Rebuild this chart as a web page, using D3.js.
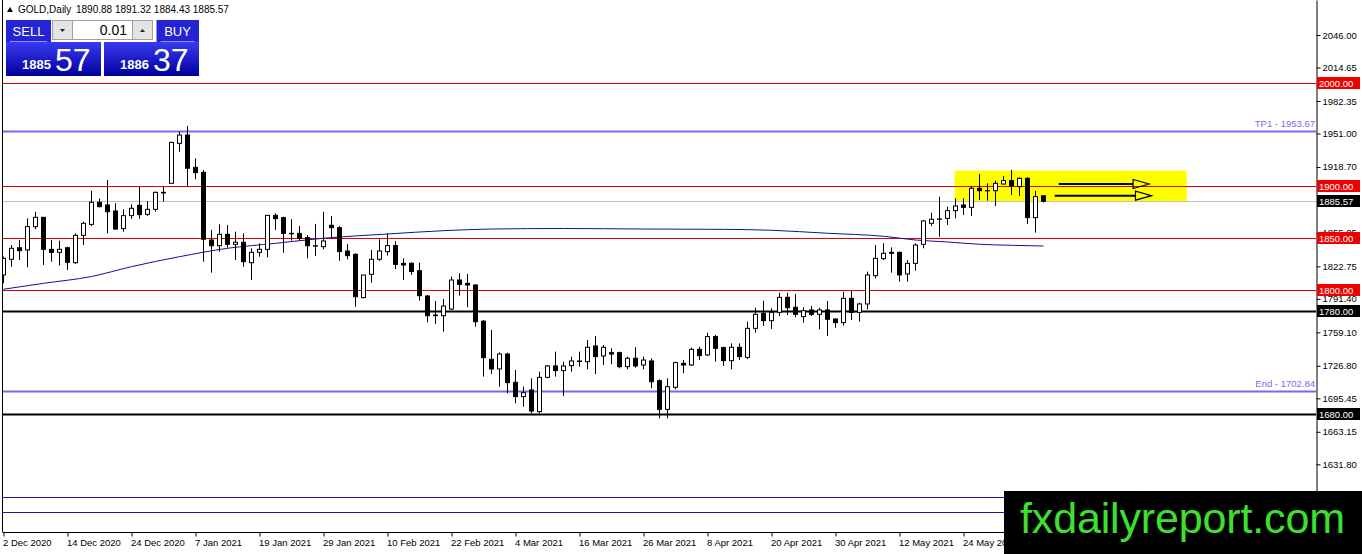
<!DOCTYPE html>
<html>
<head>
<meta charset="utf-8">
<script src="https://cdn.jsdelivr.net/npm/d3@7"></script>
<style>
  body { margin: 0; background: #fff; overflow: hidden; }
  svg { display: block; font-family: "Liberation Sans", Arial, sans-serif; }
</style>
</head>
<body>
<svg id="chart" width="1362" height="554"></svg>
<script>
// GOLD daily, 2 Dec 2020 .. 7 Jun 2021 (bar index 0..130)
var opens = [1814.5,1829.6,1840.8,1838.6,1861.1,1870.1,1839.2,1836.3,1840.8,1826.3,
  1852.7,1863.3,1884.6,1882.0,1876.2,1859.2,1871.7,1881.7,1873.0,1877.8,
  1894.2,1902.9,1941.5,1949.5,1918.3,1913.5,1848.2,1842.7,1853.7,1844.0,
  1846.0,1826.3,1836.3,1839.2,1872.0,1869.8,1854.6,1854.6,1850.5,1842.7,
  1841.8,1862.4,1860.1,1837.6,1834.4,1792.6,1815.1,1829.6,1837.0,1842.8,
  1825.7,1825.7,1818.6,1794.2,1775.2,1775.2,1781.6,1809.6,1806.4,1804.8,
  1769.9,1733.1,1723.8,1738.2,1710.9,1697.1,1703.5,1682.6,1715.7,1726.7,
  1722.2,1727.0,1731.5,1730.8,1746.0,1736.3,1739.5,1739.5,1726.0,1734.1,
  1727.6,1731.5,1712.5,1684.8,1706.1,1729.2,1727.6,1742.7,1737.3,1755.0,
  1744.4,1731.8,1744.7,1735.0,1763.0,1777.5,1770.4,1778.4,1792.9,1783.3,
  1774.3,1780.7,1776.5,1780.7,1772.0,1768.5,1791.9,1778.4,1786.5,1813.8,
  1830.2,1836.3,1836.3,1815.4,1825.7,1844.0,1864.3,1868.2,1869.1,1876.5,
  1882.0,1879.7,1898.1,1895.8,1895.8,1902.2,1905.5,1899.7,1907.7,1869.8,
  1890.88];
var highs = [1832.1,1843.4,1848.2,1869.1,1875.5,1870.3,1848.2,1847.6,1841.8,1854.6,
  1865.9,1895.8,1888.4,1906.1,1883.6,1877.8,1882.6,1899.7,1885.8,1894.9,
  1899.7,1943.1,1952.7,1958.2,1927.0,1915.8,1857.9,1863.3,1862.7,1856.3,
  1854.6,1840.2,1845.0,1872.3,1873.9,1870.7,1868.2,1861.7,1853.0,1863.7,
  1875.5,1871.4,1861.7,1844.4,1835.4,1814.4,1838.6,1848.9,1854.6,1847.3,
  1830.5,1826.7,1826.4,1795.2,1789.4,1791.3,1812.8,1816.1,1815.4,1805.4,
  1771.0,1761.4,1739.8,1739.5,1722.8,1706.7,1714.8,1721.2,1727.6,1740.5,
  1730.8,1735.7,1740.5,1751.7,1755.6,1746.9,1743.7,1740.5,1735.7,1744.7,
  1735.7,1734.1,1713.8,1714.8,1730.8,1732.4,1744.3,1745.3,1758.8,1756.6,
  1745.3,1748.5,1748.5,1769.4,1782.9,1789.7,1782.3,1797.4,1797.4,1796.1,
  1783.3,1784.6,1782.9,1789.4,1772.6,1798.4,1799.0,1787.8,1817.7,1843.4,
  1845.0,1841.1,1837.0,1828.9,1845.0,1867.5,1874.6,1890.0,1880.4,1888.4,
  1888.4,1900.3,1911.9,1902.9,1905.5,1910.0,1915.8,1908.7,1908.7,1895.5,
  1891.32];
var lows = [1806.4,1822.5,1828.9,1821.8,1858.5,1824.1,1827.3,1823.5,1819.3,1825.1,
  1843.4,1861.7,1879.7,1854.6,1857.9,1856.3,1868.5,1868.8,1871.4,1875.5,
  1885.2,1902.9,1933.4,1900.3,1906.7,1827.3,1816.7,1837.0,1840.8,1828.9,
  1822.5,1809.6,1832.1,1831.5,1857.9,1836.0,1847.6,1847.6,1830.5,1832.8,
  1839.2,1849.2,1828.3,1829.6,1783.9,1791.9,1807.1,1828.0,1833.1,1820.2,
  1809.6,1814.5,1789.7,1768.8,1767.2,1759.8,1780.7,1794.5,1783.3,1764.6,
  1716.4,1718.9,1706.7,1700.3,1690.6,1687.4,1681.0,1681.0,1714.8,1716.4,
  1697.7,1721.2,1726.0,1723.4,1718.9,1727.6,1728.3,1724.4,1723.4,1725.0,
  1723.4,1705.1,1676.2,1676.2,1704.1,1719.6,1726.7,1732.4,1736.3,1730.8,
  1726.7,1723.4,1732.5,1733.4,1758.8,1765.3,1762.4,1774.9,1775.9,1773.6,
  1768.5,1774.9,1762.0,1755.6,1763.6,1765.6,1771.0,1769.4,1781.3,1811.2,
  1828.9,1816.7,1808.0,1808.0,1818.6,1840.2,1861.7,1851.4,1862.7,1869.1,
  1872.3,1871.4,1886.8,1886.2,1881.0,1902.0,1891.6,1890.7,1863.7,1855.3,
  1884.43];
var closes = [1830.5,1840.2,1837.9,1861.1,1870.1,1839.2,1836.3,1839.2,1826.7,1852.7,
  1864.3,1884.6,1880.4,1875.5,1858.8,1871.7,1878.8,1872.7,1877.8,1894.2,
  1893.6,1942.4,1949.5,1917.4,1913.2,1848.9,1842.7,1853.7,1844.0,1846.0,
  1827.3,1836.3,1839.2,1872.0,1868.8,1854.6,1854.2,1849.8,1842.7,1842.3,
  1847.3,1860.1,1837.0,1833.1,1793.5,1814.4,1829.6,1837.6,1842.8,1824.7,
  1824.1,1817.7,1794.5,1775.2,1775.8,1784.5,1809.6,1805.4,1804.8,1769.4,
  1734.7,1723.8,1738.2,1710.6,1697.1,1700.9,1683.2,1715.7,1726.7,1722.2,
  1726.7,1731.5,1731.0,1744.7,1735.7,1744.7,1738.2,1726.0,1734.1,1726.7,
  1732.4,1711.5,1684.8,1706.7,1729.9,1727.6,1742.7,1736.6,1755.0,1743.7,
  1731.8,1744.7,1735.7,1763.0,1776.5,1770.4,1778.4,1792.9,1782.9,1776.5,
  1780.0,1776.5,1780.7,1771.7,1768.5,1791.9,1778.4,1786.5,1814.5,1830.5,
  1835.4,1835.4,1814.5,1825.7,1843.4,1866.6,1868.2,1868.5,1876.5,1881.0,
  1879.7,1898.1,1895.8,1895.6,1902.9,1905.5,1900.3,1907.7,1869.8,1890.0,
  1885.57];

// moving average read at a few bars
var maBars = [0, 5, 11, 16, 22, 28, 34, 40, 48, 55, 61, 70, 80, 90, 96, 103, 110, 114, 118, 122, 126, 130];
var maValues = [1800.7,1806.4,1813.0,1822.5,1832.1,1840.2,1845.0,1849.9,1854.0,1857.2,1858.8,
  1859.3,1858.8,1858.5,1857.6,1854.7,1851.8,1848.2,1846.3,1844.1,1843.1,1842.4];

var xTickBars = [0, 8, 16, 24, 32, 40, 48, 56, 64, 72, 80, 88, 96, 104, 112, 120];
var xTickLabels = ['2 Dec 2020','14 Dec 2020','24 Dec 2020','7 Jan 2021','19 Jan 2021','29 Jan 2021',
  '10 Feb 2021','22 Feb 2021','4 Mar 2021','16 Mar 2021','26 Mar 2021','8 Apr 2021',
  '20 Apr 2021','30 Apr 2021','12 May 2021','24 May 2021'];
var yTicks = [2046.00, 2014.65, 1982.35, 1951.00, 1918.70, 1855.05, 1822.75,
  1791.40, 1759.10, 1726.80, 1695.45, 1663.15, 1631.80];

// horizontal levels
var redLevels = [2000, 1900, 1850, 1800];
var blackLevels = [1780, 1680];
var targetLevels = [1953.67, 1702.84];
var targetNames = ['TP1', 'End'];
var navyLevels = [1600.5, 1585.5];
var bid = 1885.57, ask = 1886.37;

// yellow zone and arrows (bar index / price)
var zoneBars = [118.9, 147.9], zonePrices = [1915.1, 1885.2];
var arrowStart = [131.9, 131.4], arrowEnd = [143.2, 143.5], arrowPrice = [1902.2, 1891.0];

var svg = d3.select('#chart');
var plotRight = 1316, plotBottom = 532;
var font = '"Liberation Sans", Arial, sans-serif';

var x = d3.scaleLinear().domain([0, 130]).range([3.5, 1043.5]);
var y = d3.scaleLinear().domain([1566.48, 2079.77]).range([532, 0]);

svg.append('defs').append('clipPath').attr('id', 'clip')
  .append('rect').attr('x', 3).attr('y', 0).attr('width', plotRight - 3).attr('height', plotBottom);

var plot = svg.append('g').attr('clip-path', 'url(#clip)');

// yellow zone
plot.append('rect')
  .attr('x', x(zoneBars[0])).attr('width', x(zoneBars[1]) - x(zoneBars[0]))
  .attr('y', y(zonePrices[0])).attr('height', y(zonePrices[1]) - y(zonePrices[0]))
  .attr('fill', '#ffff00');

var hline = function(values, color, w) {
  plot.selectAll(null).data(values).enter().append('line')
    .attr('x1', 3).attr('x2', plotRight)
    .attr('y1', function(d) { return Math.round(y(d)) + 0.5; })
    .attr('y2', function(d) { return Math.round(y(d)) + 0.5; })
    .attr('stroke', color).attr('stroke-width', w);
};
hline(navyLevels, '#1a1aa0', 1);
hline([bid], '#c0c0c0', 1);
hline(redLevels, '#e00000', 1);
hline(blackLevels, '#000', 2);
hline(targetLevels, '#7b68ee', 2);

// target texts
plot.selectAll(null).data(targetLevels).enter().append('text')
  .attr('x', plotRight - 1).attr('y', function(d) { return y(d) - 4; })
  .attr('text-anchor', 'end').attr('font-size', 9.5).attr('fill', '#7b68ee')
  .text(function(d, i) { return targetNames[i] + ' - ' + d.toFixed(2); });

// moving average
var line = d3.line()
  .x(function(d, i) { return x(maBars[i]); })
  .y(function(d) { return y(d); })
  .curve(d3.curveMonotoneX);
plot.append('path').datum(maValues).attr('d', line)
  .attr('fill', 'none').attr('stroke', '#10109a').attr('stroke-width', 1);

// candles
var bars = d3.range(opens.length).map(function(i) {
  return { i: i, o: opens[i], h: highs[i], l: lows[i], c: closes[i] };
});
var candle = plot.selectAll('g.candle').data(bars).enter().append('g').attr('class', 'candle');
candle.append('line')
  .attr('x1', function(d) { return x(d.i); }).attr('x2', function(d) { return x(d.i); })
  .attr('y1', function(d) { return y(d.h); }).attr('y2', function(d) { return y(d.l); })
  .attr('stroke', '#000').attr('stroke-width', 1);
candle.append('rect')
  .attr('x', function(d) { return x(d.i) - 2; }).attr('width', 4)
  .attr('y', function(d) { return y(Math.max(d.o, d.c)); })
  .attr('height', function(d) { return Math.max(0.01, Math.abs(y(d.o) - y(d.c))); })
  .attr('fill', function(d) { return d.c >= d.o ? '#fff' : '#000'; })
  .attr('stroke', '#000').attr('stroke-width', 1);

// arrows
arrowPrice.forEach(function(p, i) {
  var yy = y(p), tip = x(arrowEnd[i]), base = tip - 16;
  plot.append('line').attr('x1', x(arrowStart[i])).attr('x2', base)
    .attr('y1', yy).attr('y2', yy).attr('stroke', '#000').attr('stroke-width', 2);
  plot.append('path')
    .attr('d', 'M' + base + ',' + (yy - 4.5) + 'L' + tip + ',' + yy + 'L' + base + ',' + (yy + 4.5) + 'Z')
    .attr('fill', 'none').attr('stroke', '#000').attr('stroke-width', 1.2);
});

// frame
svg.append('line').attr('x1', 2.5).attr('x2', 2.5).attr('y1', 0).attr('y2', plotBottom).attr('stroke', '#000');
svg.append('line').attr('x1', 2.5).attr('x2', plotRight).attr('y1', plotBottom + 0.5).attr('y2', plotBottom + 0.5).attr('stroke', '#000');

// y axis
var yAxis = svg.append('g').attr('transform', 'translate(' + (plotRight + 0.5) + ',0)')
  .call(d3.axisRight(y).tickValues(yTicks).tickSize(4).tickSizeOuter(0).tickPadding(2)
    .tickFormat(d3.format('.2f')));
yAxis.selectAll('text').attr('font-size', 9.5).attr('font-family', font).attr('fill', '#000');
yAxis.select('.domain').attr('stroke', '#000');

// x axis
var xAxis = svg.append('g').attr('transform', 'translate(0,' + (plotBottom + 0.5) + ')')
  .call(d3.axisBottom(x).tickValues(xTickBars).tickSize(4).tickSizeOuter(0)
    .tickFormat(function(d, i) { return xTickLabels[i]; }));
xAxis.select('.domain').remove();
xAxis.selectAll('text').attr('font-size', 9.5).attr('text-anchor', 'start').attr('dx', -1)
  .attr('font-family', font).attr('fill', '#000');

// level boxes on the price scale
var levelBox = function(value, color) {
  var yy = Math.round(y(value));
  svg.append('rect').attr('x', plotRight + 1).attr('y', yy - 6).attr('width', 43).attr('height', 12).attr('fill', color);
  svg.append('text').attr('x', plotRight + 3).attr('y', yy + 4).attr('font-size', 9.5).attr('fill', '#fff')
    .text(value.toFixed(2));
};
redLevels.forEach(function(v) { levelBox(v, '#ee0000'); });
blackLevels.forEach(function(v) { levelBox(v, '#000'); });
levelBox(bid, '#000');

// header
svg.append('path').attr('d', 'M7,12L13,12L10,7Z').attr('fill', '#000');
svg.append('text').attr('x', 18).attr('y', 13).attr('font-size', 10).text('GOLD,Daily');
svg.append('text').attr('x', 76).attr('y', 13).attr('font-size', 10)
  .text([opens[130], highs[130], lows[130], closes[130]].map(function(v) { return v.toFixed(2); }).join(' '));

// one click trading panel
var grad = svg.select('defs').append('linearGradient').attr('id', 'btn').attr('x1', 0).attr('x2', 0).attr('y1', 0).attr('y2', 1);
grad.append('stop').attr('offset', '0%').attr('stop-color', '#3a3af2');
grad.append('stop').attr('offset', '100%').attr('stop-color', '#00009c');

var panel = svg.append('g');
[[6, 'SELL', bid], [156.5, 'BUY', ask]].forEach(function(b, k) {
  var bx = k === 0 ? 6 : 104;
  panel.append('rect').attr('x', b[0]).attr('y', 20).attr('width', k === 0 ? 45 : 42.5).attr('height', 22).attr('fill', '#2424d4');
  panel.append('text').attr('x', b[0] + (k === 0 ? 22.5 : 21)).attr('y', 36).attr('text-anchor', 'middle')
    .attr('font-size', 13).attr('fill', '#fff').text(b[1]);
  panel.append('rect').attr('x', bx).attr('y', 42).attr('width', 95).attr('height', 34).attr('fill', 'url(#btn)');
  panel.append('line').attr('x1', b[0] + 4).attr('x2', b[0] + (k === 0 ? 41 : 38)).attr('y1', 41.5).attr('y2', 41.5)
    .attr('stroke', '#8f8fef').attr('stroke-width', 1);
  var s = b[2].toFixed(2).split('.');
  panel.append('text').attr('x', bx + 16).attr('y', 69).attr('font-size', 13).attr('font-weight', 'bold')
    .attr('fill', '#fff').text(s[0]);
  panel.append('text').attr('x', bx + 49).attr('y', 71).attr('font-size', 32).attr('fill', '#fff').text(s[1]);
});
panel.append('rect').attr('x', 52.5).attr('y', 20.5).attr('width', 100).attr('height', 19)
  .attr('fill', '#fff').attr('stroke', '#a0a0a0');
panel.append('rect').attr('x', 52.5).attr('y', 20.5).attr('width', 20).attr('height', 19)
  .attr('fill', '#e4e4e4').attr('stroke', '#a0a0a0');
panel.append('rect').attr('x', 132.5).attr('y', 20.5).attr('width', 20).attr('height', 19)
  .attr('fill', '#e4e4e4').attr('stroke', '#a0a0a0');
panel.append('path').attr('d', 'M60,29L65,29L62.5,32Z').attr('fill', '#222');
panel.append('path').attr('d', 'M140,32L145,32L142.5,29Z').attr('fill', '#222');
panel.append('text').attr('x', 127).attr('y', 35).attr('text-anchor', 'end').attr('font-size', 14).text('0.01');

// watermark
svg.append('rect').attr('x', 1004).attr('y', 491).attr('width', 358).attr('height', 63).attr('fill', '#000');
svg.append('text').attr('x', 1020).attr('y', 533).attr('font-size', 43).attr('fill', '#3ee030')
  .attr('textLength', 325).text('fxdailyreport.com');
</script>
</body>
</html>
